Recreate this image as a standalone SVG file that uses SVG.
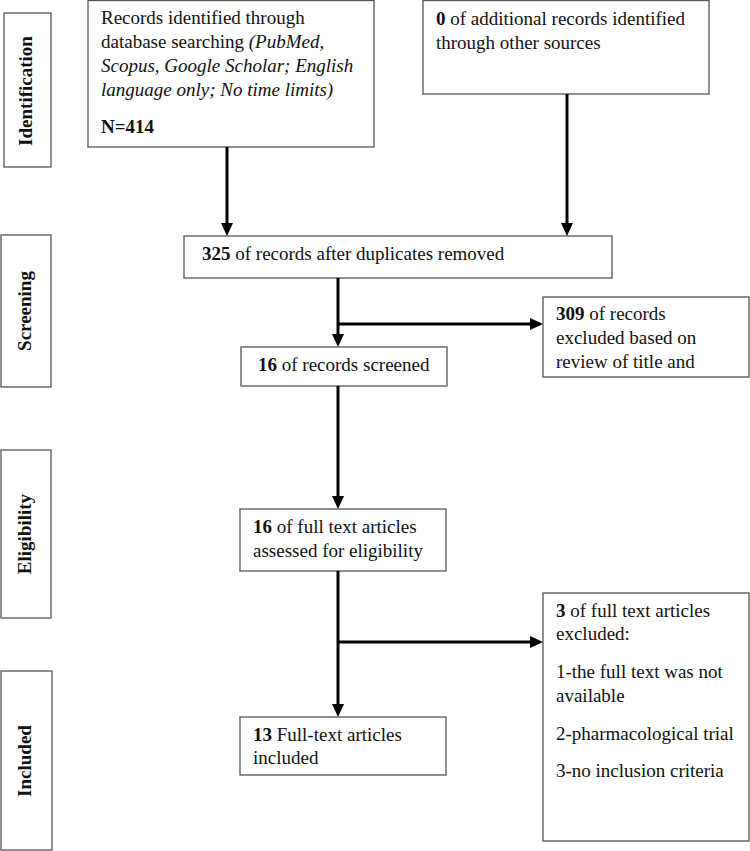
<svg xmlns="http://www.w3.org/2000/svg" width="750" height="851" viewBox="0 0 750 851">
<style>
  .box{fill:#fff;stroke:#555;stroke-width:1.3}
  .t{font-family:"Liberation Serif","Times New Roman",serif;font-size:19px;fill:#111}
  .side{font-family:"Liberation Serif","Times New Roman",serif;font-size:19px;font-weight:bold;fill:#111;text-anchor:middle}
  .b{font-weight:bold}
  .i{font-style:italic}
  .c{fill:none;stroke:#000;stroke-width:3}
</style>
<defs>
  <marker id="ah" markerUnits="userSpaceOnUse" markerWidth="14" markerHeight="12" refX="0" refY="6" orient="auto">
    <path d="M0,0 L13,6 L0,12 z" fill="#000"/>
  </marker>
</defs>

<g id="stage-identification">
  <rect class="box" x="4" y="13" width="47" height="154"/>
  <text class="side" transform="translate(32,91) rotate(-90)">Identification</text>
</g>
<g id="stage-screening">
  <rect class="box" x="1" y="235" width="50" height="152"/>
  <text class="side" transform="translate(31,311) rotate(-90)">Screening</text>
</g>
<g id="stage-eligibility">
  <rect class="box" x="1" y="450" width="50" height="168"/>
  <text class="side" transform="translate(31,534) rotate(-90)">Eligibility</text>
</g>
<g id="stage-included">
  <rect class="box" x="1" y="671" width="51" height="179"/>
  <text class="side" transform="translate(31,761) rotate(-90)">Included</text>
</g>

<g id="records-db">
  <rect class="box" x="88" y="0.5" width="286" height="146.5"/>
  <text class="t" x="101" y="24">Records identified through</text>
  <text class="t" x="101" y="48">database searching <tspan class="i">(PubMed,</tspan></text>
  <text class="t i" x="101" y="72">Scopus, Google Scholar; English</text>
  <text class="t i" x="101" y="96">language only; No time limits)</text>
  <text class="t b" x="101" y="133">N=414</text>
</g>
<g id="records-other">
  <rect class="box" x="423" y="0.5" width="286" height="93.5"/>
  <text class="t" x="436" y="25"><tspan class="b">0</tspan> of additional records identified</text>
  <text class="t" x="436" y="49">through other sources</text>
</g>
<g id="dedup">
  <rect class="box" x="184" y="236" width="428" height="42"/>
  <text class="t" x="202" y="260"><tspan class="b">325</tspan> of records after duplicates removed</text>
</g>
<g id="excluded-309">
  <rect class="box" x="543" y="297" width="206" height="80"/>
  <text class="t" x="556" y="320"><tspan class="b">309</tspan> of records</text>
  <text class="t" x="556" y="344">excluded based on</text>
  <text class="t" x="556" y="368">review of title and</text>
</g>
<g id="screened">
  <rect class="box" x="241" y="347" width="206" height="39"/>
  <text class="t" x="258" y="371"><tspan class="b">16</tspan> of records screened</text>
</g>
<g id="fulltext">
  <rect class="box" x="240" y="509" width="206" height="62"/>
  <text class="t" x="253" y="533"><tspan class="b">16</tspan> of full text articles</text>
  <text class="t" x="253" y="557">assessed for eligibility</text>
</g>
<g id="excluded-3">
  <rect class="box" x="543" y="593" width="206" height="248"/>
  <text class="t" x="556" y="617"><tspan class="b">3</tspan> of full text articles</text>
  <text class="t" x="556" y="640">excluded:</text>
  <text class="t" x="556" y="678">1-the full text was not</text>
  <text class="t" x="556" y="702">available</text>
  <text class="t" x="556" y="740">2-pharmacological trial</text>
  <text class="t" x="556" y="777">3-no inclusion criteria</text>
</g>
<g id="included">
  <rect class="box" x="240" y="717" width="206" height="58"/>
  <text class="t" x="253" y="741"><tspan class="b">13</tspan> Full-text articles</text>
  <text class="t" x="253" y="764">included</text>
</g>

<g id="connectors">
  <path class="c" d="M227,147 V223" marker-end="url(#ah)"/>
  <path class="c" d="M567,94 V223" marker-end="url(#ah)"/>
  <path class="c" d="M338,278 V334" marker-end="url(#ah)"/>
  <path class="c" d="M338,324 H530" marker-end="url(#ah)"/>
  <path class="c" d="M338,386 V496" marker-end="url(#ah)"/>
  <path class="c" d="M338,571 V704" marker-end="url(#ah)"/>
  <path class="c" d="M338,642 H530" marker-end="url(#ah)"/>
</g>
</svg>
